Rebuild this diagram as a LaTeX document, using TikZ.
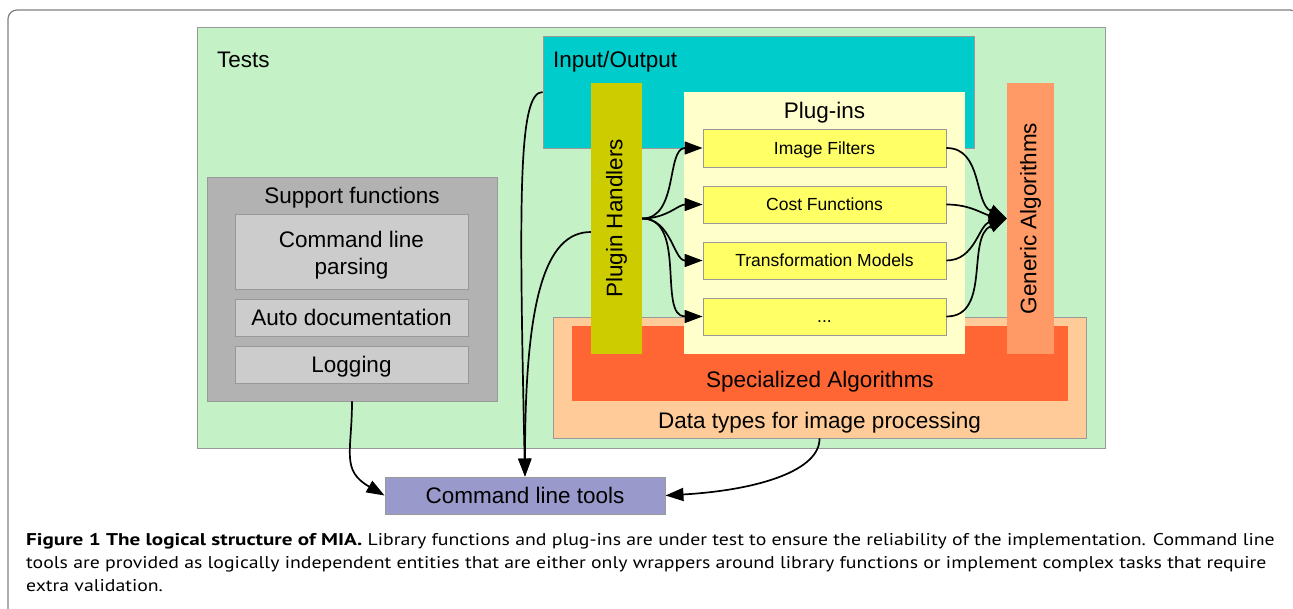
\documentclass[tikz,border=0pt]{standalone}
\usepackage{fontspec}
\setmainfont{Liberation Sans}
\newfontfamily\capfont[FakeStretch=1.163,BoldFeatures={FakeStretch=1.243}]{PT Sans}
\usetikzlibrary{arrows.meta}
\definecolor{testsgreen}{HTML}{C4F2C6}
\definecolor{iocyan}{HTML}{00CCCC}
\definecolor{pholive}{HTML}{CCCC00}
\definecolor{plugbg}{HTML}{FFFFCC}
\definecolor{pyellow}{HTML}{FFFF66}
\definecolor{gaorange}{HTML}{FF9966}
\definecolor{dtpeach}{HTML}{FFCC99}
\definecolor{specred}{HTML}{FF6633}
\definecolor{sfgray}{HTML}{B2B2B2}
\definecolor{innergray}{HTML}{CCCCCC}
\definecolor{cltblue}{HTML}{9999CC}
\definecolor{boxline}{HTML}{999999}
\definecolor{framegray}{HTML}{7F7F7F}
\begin{document}
\begin{tikzpicture}[x=1pt,y=-1pt,
  box/.style={draw=boxline, line width=0.9pt, inner sep=0pt},
  flat/.style={draw=none, inner sep=0pt},
  big/.style={font=\fontsize{22.5}{27}\selectfont},
  small/.style={font=\fontsize{17.5}{21}\selectfont},
  lbl/.style={inner sep=0pt, big},
  conn/.style={line width=1.7pt, -{Triangle[length=18pt,width=13pt]}},
  capline/.style={inner sep=0pt, anchor=base west, font=\capfont\fontsize{17}{23}\selectfont},
]
\useasboundingbox (0,0) rectangle (1293,608);
% outer frame
\draw[framegray, line width=1.2pt, rounded corners=9pt] (8,640) -- (8,10) -- (1299,10) -- (1299,640);

% Tests
\node[box, fill=testsgreen, minimum width=908pt, minimum height=421pt] (tests) at (651,237.5) {};
\node[lbl, anchor=base west] (testslbl) at (217,67) {Tests};

% Support functions
\node[box, fill=sfgray, minimum width=290pt, minimum height=224pt] (sf) at (352,289) {};
\node[lbl, anchor=base] (sflbl) at (352,203) {Support functions};
\node[box, fill=innergray, minimum width=233pt, minimum height=75pt] (clp) at (351.5,251.5) {};
\node[lbl, anchor=base] (clp1) at (351.5,247) {Command line};
\node[lbl, anchor=base] (clp2) at (351.5,274) {parsing};
\node[box, fill=innergray, minimum width=233pt, minimum height=37pt, big, text depth=0pt] (ad) at (351.5,317.5) {Auto documentation};
\node[box, fill=innergray, minimum width=233pt, minimum height=37pt, big, text depth=0pt] (log) at (351.5,364.5) {Logging};

% Input/Output
\node[box, fill=iocyan, minimum width=431pt, minimum height=112pt] (io) at (758.5,92) {};
\node[lbl, anchor=base west] (iolbl) at (553,67) {Input/Output};

% Data types and specialized algorithms
\node[box, fill=dtpeach, minimum width=533pt, minimum height=121pt] (dt) at (819.5,377.5) {};
\node[lbl, anchor=base] (dtlbl) at (819.5,428) {Data types for image processing};
\node[flat, fill=specred, minimum width=496pt, minimum height=75pt] (spec) at (820,363.5) {};
\node[lbl, anchor=base] (speclbl) at (820,387) {Specialized Algorithms};

% Plugin handlers
\node[flat, fill=pholive, minimum width=51pt, minimum height=271pt] (ph) at (616.5,218.5) {};
\node[lbl, rotate=90] (phlbl) at (ph.center) {Plugin Handlers};

% Plug-ins
\node[flat, fill=plugbg, minimum width=281pt, minimum height=262pt] (pl) at (824.5,223) {};
\node[lbl, anchor=base] (pllbl) at (824.5,118) {Plug-ins};
\node[box, fill=pyellow, minimum width=243pt, minimum height=38pt, small, text depth=0pt] (if) at (824.5,148) {Image Filters};
\node[box, fill=pyellow, minimum width=243pt, minimum height=37pt, small, text depth=0pt] (cf) at (824.5,204.5) {Cost Functions};
\node[box, fill=pyellow, minimum width=243pt, minimum height=37pt, small, text depth=0pt] (tm) at (824.5,260.5) {Transformation Models};
\node[box, fill=pyellow, minimum width=243pt, minimum height=37pt, small, text height=12.5pt, text depth=0pt] (dd) at (824.5,316.5) {...};

% Generic algorithms
\node[flat, fill=gaorange, minimum width=47pt, minimum height=271pt] (ga) at (1030.5,218.5) {};
\node[lbl, rotate=90] (galbl) at (ga.center) {Generic Algorithms};

% Command line tools
\node[box, fill=cltblue, minimum width=280pt, minimum height=37pt, big, text depth=0pt] (clt) at (525,495.5) {Command line tools};

% connectors
\draw[conn] (ph.east) to[out=0,in=180] (if.west);
\draw[conn] (ph.east) to[out=0,in=180] (cf.west);
\draw[conn] (ph.east) to[out=0,in=180] (tm.west);
\draw[conn] (ph.east) to[out=0,in=180] (dd.west);

\draw[conn] (if.east) to[out=0,in=155] (ga.west);
\draw[conn] (cf.east) to[out=0,in=170] (ga.west);
\draw[conn] (tm.east) to[out=0,in=192] (ga.west);
\draw[conn] (dd.east) to[out=0,in=205] (ga.west);

\draw[conn] (io.west) .. controls (518,92) and (519,200) .. (clt.north);
\draw[conn] ([yshift=-13.5pt]ph.west) .. controls (545,232) and (525,300) .. (clt.north);
\draw[conn] (sf.south) to[out=-90,in=150,looseness=1.3] (clt.west);
\draw[conn] (dt.south) .. controls (820,470) and (760,490) .. (clt.east);

% caption
\node[capline] (cap1) at (26,545) {\textbf{Figure 1 The logical structure of MIA.} Library functions and plug-ins are under test to ensure the reliability of the implementation. Command line};
\node[capline] (cap2) at (26,568) {tools are provided as logically independent entities that are either only wrappers around library functions or implement complex tasks that require};
\node[capline] (cap3) at (26,591) {extra validation.};
\end{tikzpicture}
\end{document}
